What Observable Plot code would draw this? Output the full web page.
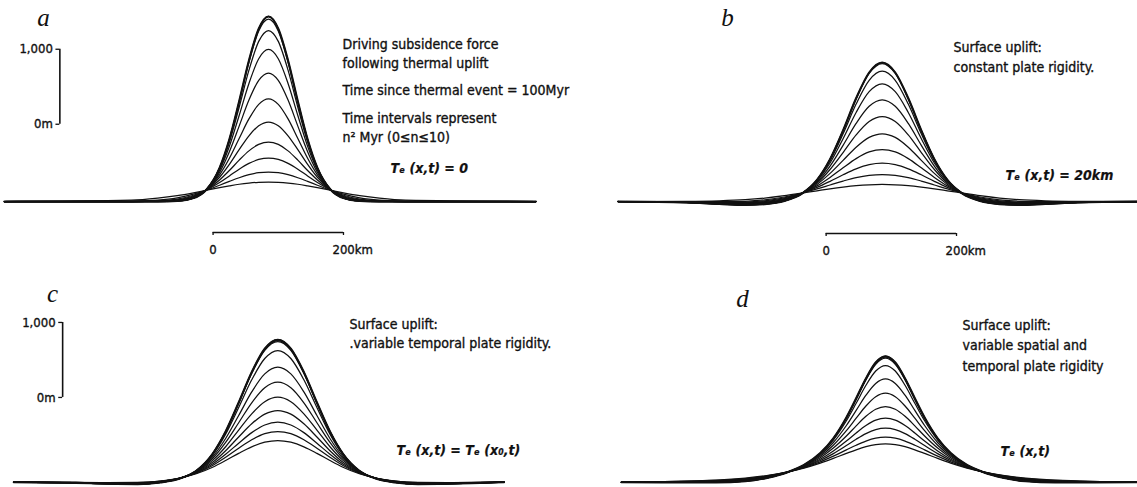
<!DOCTYPE html>
<html><head><meta charset="utf-8">
<script src="https://cdn.jsdelivr.net/npm/d3@7"></script>
<script src="https://cdn.jsdelivr.net/npm/@observablehq/plot@0.6"></script>
<style>
html,body{margin:0;padding:0;background:#fff;}
#wrap{position:relative;width:1137px;height:487px;overflow:hidden;background:#fff;}
.panel{position:absolute;}
</style></head><body><div id="wrap"></div>
<script>
// ---------------- DATA ----------------
// time index n (t = n^2 Myr), one profile per n
const nValues = [0, 1, 2, 3, 4, 5, 6, 7, 8, 9, 10];

// Panel a: distance from uplift axis (km) and surface elevation (m) per profile
const offsetsA = [0, 15, 30, 45, 60, 75, 95, 115, 140, 170, 210];
const extentA = [-405, 410];
const curvesA = [
  [2467, 2304, 1879, 1336, 829, 449, 160, 45, 7, 0, 0],
  [2433, 2275, 1857, 1324, 825, 449, 161, 46, 7, 0, 0],
  [2280, 2135, 1751, 1257, 792, 437, 161, 47, 7, 0, 0],
  [2027, 1903, 1573, 1147, 737, 417, 160, 49, 8, 1, 0],
  [1713, 1615, 1352, 1005, 664, 389, 159, 53, 10, 1, 0],
  [1367, 1295, 1101, 841, 577, 356, 157, 58, 13, 1, 0],
  [1060, 1011, 876, 691, 495, 323, 157, 65, 17, 2, 0],
  [793, 761, 675, 551, 413, 287, 155, 73, 23, 4, 0],
  [580, 561, 508, 431, 341, 253, 154, 83, 32, 8, 1],
  [393, 384, 357, 317, 268, 217, 151, 97, 49, 18, 4],
  [260, 256, 246, 230, 208, 184, 150, 116, 78, 44, 17]
];

// Panel b
const offsetsB = [0, 20, 40, 60, 80, 100, 123, 150, 180, 210, 250, 300];
const extentB = [-405, 400];
const curvesB = [
  [1853, 1720, 1376, 948, 564, 288, 106, 7, -35, -46, -33, -14],
  [1840, 1709, 1368, 945, 563, 289, 107, 8, -35, -46, -32, -14],
  [1737, 1616, 1299, 903, 543, 283, 107, 9, -32, -43, -31, -13],
  [1569, 1464, 1187, 837, 513, 275, 108, 13, -28, -39, -28, -12],
  [1356, 1269, 1041, 749, 472, 260, 108, 18, -23, -33, -24, -10],
  [1133, 1067, 888, 653, 427, 245, 109, 24, -16, -27, -20, -9],
  [903, 855, 724, 549, 375, 228, 110, 31, -9, -21, -16, -7],
  [693, 661, 572, 449, 321, 208, 110, 38, -1, -14, -12, -5],
  [511, 491, 435, 356, 269, 188, 111, 48, 9, -7, -8, -4],
  [360, 349, 319, 273, 220, 167, 112, 60, 22, 3, -3, -2],
  [227, 223, 211, 192, 169, 143, 113, 78, 46, 24, 9, 2]
];

// Panel c
const offsetsC = [0, 20, 40, 60, 80, 100, 125, 150, 180, 215, 260, 310];
const extentC = [-405, 347];
const curvesC = [
  [1900, 1781, 1468, 1063, 677, 379, 153, 50, -3, -26, -21, -9],
  [1889, 1772, 1460, 1059, 675, 379, 153, 51, -3, -25, -21, -9],
  [1873, 1757, 1449, 1052, 671, 377, 153, 51, -3, -25, -21, -9],
  [1756, 1649, 1365, 996, 641, 364, 150, 51, -2, -23, -20, -9],
  [1533, 1444, 1204, 889, 583, 339, 145, 51, 1, -20, -17, -7],
  [1333, 1259, 1059, 793, 531, 316, 140, 52, 3, -17, -15, -7],
  [1133, 1073, 911, 695, 473, 291, 135, 53, 6, -14, -13, -6],
  [956, 908, 779, 603, 420, 265, 129, 53, 8, -11, -11, -5],
  [800, 763, 661, 520, 373, 243, 124, 55, 11, -8, -9, -4],
  [676, 647, 565, 453, 332, 223, 119, 55, 13, -5, -7, -3],
  [556, 533, 472, 385, 289, 200, 113, 56, 16, -3, -6, -3]
];

// Panel d
const offsetsD = [0, 15, 30, 45, 60, 80, 100, 125, 150, 180, 215, 260];
const extentD = [-405, 400];
const curvesD = [
  [1680, 1597, 1384, 1119, 863, 585, 388, 229, 134, 61, 13, -3],
  [1667, 1585, 1373, 1109, 856, 581, 385, 228, 133, 60, 13, -3],
  [1653, 1572, 1364, 1103, 852, 579, 384, 228, 133, 61, 14, -3],
  [1556, 1483, 1292, 1052, 819, 561, 377, 225, 133, 62, 16, -1],
  [1377, 1317, 1160, 957, 756, 529, 361, 221, 135, 65, 20, 2],
  [1187, 1140, 1016, 853, 687, 493, 345, 217, 136, 69, 25, 5],
  [1009, 973, 879, 751, 616, 455, 327, 212, 136, 73, 30, 9],
  [853, 827, 755, 656, 549, 416, 307, 205, 136, 78, 36, 13],
  [720, 701, 648, 573, 489, 381, 289, 201, 137, 82, 42, 18],
  [600, 587, 548, 493, 431, 347, 271, 195, 137, 87, 48, 23],
  [511, 501, 473, 432, 384, 317, 255, 189, 139, 91, 54, 28]
];

// scale bars and their labels
const vBarM = [0, 1000];
const vBarLabels = ["0m", "1,000"];
const hBarKm = [0, 200];
const hBarLabels = ["0", "200km"];

// texts
const lettersAll = ["a", "b", "c", "d"];
const textA = ["Driving subsidence force", "following thermal uplift", "Time since thermal event = 100Myr", "Time intervals represent", "n\u00B2 Myr (0\u2264n\u226410)"];
const teA = "T\u2091 (x,t) = 0";
const textB = ["Surface uplift:", "constant plate rigidity."];
const teB = "T\u2091 (x,t) = 20km";
const textC = ["Surface uplift:", ".variable temporal plate rigidity."];
const teC = "T\u2091 (x,t) = T\u2091 (x\u2080,t)";
const textD = ["Surface uplift:", "variable spatial and", "temporal plate rigidity"];
const teD = "T\u2091 (x,t)";

// ---------------- LAYOUT ----------------
const KX = 0.652;  // px per km
const KY = 0.075;  // px per m
const INK = "#111";
const FONT = "DejaVu Sans Condensed, DejaVu Sans";

const panels = [
  {left: 0, top: 0, w: 560, h: 250, cx: 268, by: 201,
   offsets: offsetsA, rows: curvesA, extent: extentA, letter: lettersAll[0], letterPos: [43, 17],
   notes: textA, notesPos: [342, [44, 63, 90, 118, 137]], te: teA, tePos: [390, 168],
   vbar: {x: -320, y0: 1030}, hbar: {x0: -85, y: -413}},
  {left: 560, top: 0, w: 577, h: 250, cx: 321.7, by: 201,
   offsets: offsetsB, rows: curvesB, extent: extentB, letter: lettersAll[1], letterPos: [167, 17],
   notes: textB, notesPos: [393, [47, 67]], te: teB, tePos: [445, 175],
   hbar: {x0: -86, y: -427}},
  {left: 0, top: 250, w: 560, h: 237, cx: 277.3, by: 231.7,
   offsets: offsetsC, rows: curvesC, extent: extentC, letter: lettersAll[2], letterPos: [52, 43],
   notes: textC, notesPos: [349, [74, 93]], te: teC, tePos: [396, 200],
   vbar: {x: -330, y0: 1130}},
  {left: 560, top: 250, w: 577, h: 237, cx: 325, by: 231.7,
   offsets: offsetsD, rows: curvesD, extent: extentD, letter: lettersAll[3], letterPos: [182, 48],
   notes: textD, notesPos: [402, [75, 95, 116]], te: teD, tePos: [440, 201]}
];

const textStyle = {fontFamily: FONT, fontSize: 14, fill: INK, stroke: INK, strokeWidth: 0.35};

function drawPanel(p) {
  const pts = [];
  p.rows.forEach((row, i) => {
    const n = nValues[i];
    pts.push({n, x: p.extent[0], h: 0});
    for (let j = row.length - 1; j > 0; j--) pts.push({n, x: -p.offsets[j], h: row[j]});
    for (let j = 0; j < row.length; j++) pts.push({n, x: p.offsets[j], h: row[j]});
    pts.push({n, x: p.extent[1], h: 0});
  });
  const marks = [
    Plot.line(pts, {x: "x", y: "h", z: "n", curve: "monotone-x", stroke: INK, strokeWidth: 1.25}),
    Plot.line(pts.filter(d => d.n === 0), {x: "x", y: "h", curve: "monotone-x", stroke: INK, strokeWidth: 2.1}),
    Plot.text([p.letter], {frameAnchor: "top-left", dx: p.letterPos[0], dy: p.letterPos[1], textAnchor: "middle", lineAnchor: "middle",
      fontFamily: "Liberation Serif", fontStyle: "italic", fontSize: 25, fill: INK})
  ];
  p.notes.forEach((s, i) => {
    marks.push(Plot.text([s], {frameAnchor: "top-left", dx: p.notesPos[0], dy: p.notesPos[1][i], textAnchor: "start", lineAnchor: "middle", ...textStyle}));
  });
  marks.push(Plot.text([p.te], {frameAnchor: "top-left", dx: p.tePos[0], dy: p.tePos[1], textAnchor: "start", lineAnchor: "middle",
    ...textStyle, fontWeight: "bold", fontStyle: "italic", strokeWidth: 0.2}));

  if (p.vbar) {
    const v = p.vbar;
    marks.push(Plot.ruleX([{x: v.x, y1: v.y0 + vBarM[0], y2: v.y0 + vBarM[1]}], {x: "x", y1: "y1", y2: "y2", stroke: INK, strokeWidth: 1.6}));
    marks.push(Plot.ruleY(vBarM.map(m => ({y: v.y0 + m})), {y: "y", x1: v.x - 6, x2: v.x, stroke: INK, strokeWidth: 1.3}));
    marks.push(Plot.text(vBarM.map((m, i) => ({y: v.y0 + m, t: vBarLabels[i]})), {x: v.x, y: "y", text: "t", dx: -7, textAnchor: "end", lineAnchor: "middle",
      ...textStyle, fontSize: 13}));
  }
  if (p.hbar) {
    const hb = p.hbar;
    marks.push(Plot.ruleY([{y: hb.y, x1: hb.x0 + hBarKm[0], x2: hb.x0 + hBarKm[1]}], {y: "y", x1: "x1", x2: "x2", stroke: INK, strokeWidth: 1.6}));
    marks.push(Plot.ruleX(hBarKm.map(k => ({x: hb.x0 + k})), {x: "x", y1: hb.y, y2: hb.y - 40, stroke: INK, strokeWidth: 1.3}));
    marks.push(Plot.text([{x: hb.x0 + hBarKm[0], t: hBarLabels[0]}], {x: "x", y: hb.y, text: "t", dy: 17, textAnchor: "middle", lineAnchor: "middle", ...textStyle, fontSize: 13}));
    marks.push(Plot.text([{x: hb.x0 + hBarKm[1], t: hBarLabels[1]}], {x: "x", y: hb.y, text: "t", dy: 17, dx: -11, textAnchor: "start", lineAnchor: "middle", ...textStyle, fontSize: 13}));
  }
  return Plot.plot({
    width: p.w, height: p.h, margin: 0,
    x: {domain: [-p.cx / KX, (p.w - p.cx) / KX], range: [0, p.w], axis: null},
    y: {domain: [-(p.h - p.by) / KY, p.by / KY], range: [p.h, 0], axis: null},
    style: {overflow: "visible", background: "transparent"},
    marks
  });
}

const wrap = document.getElementById("wrap");
panels.forEach(p => {
  const div = document.createElement("div");
  div.className = "panel";
  div.style.left = p.left + "px";
  div.style.top = p.top + "px";
  div.appendChild(drawPanel(p));
  wrap.appendChild(div);
});
</script></body></html>
